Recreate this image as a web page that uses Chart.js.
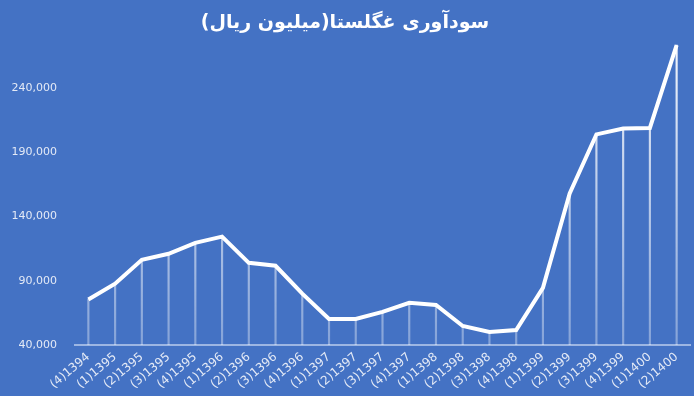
<!DOCTYPE html>
<html>
<head>
<meta charset="utf-8">
<script src="https://cdn.jsdelivr.net/npm/chart.js@4.4.1/dist/chart.umd.min.js"></script>
<style>
  html, body { margin: 0; padding: 0; background: #fff; }
  #wrap { width: 694px; height: 396px; background: #4472c4; }
</style>
</head>
<body>
<div id="wrap"><canvas id="chart" width="694" height="396"></canvas></div>
<script>
// quarters (Persian calendar) and profit in million rials
const quarters = [
  '(4)1394', '(1)1395', '(2)1395', '(3)1395', '(4)1395',
  '(1)1396', '(2)1396', '(3)1396', '(4)1396',
  '(1)1397', '(2)1397', '(3)1397', '(4)1397',
  '(1)1398', '(2)1398', '(3)1398', '(4)1398',
  '(1)1399', '(2)1399', '(3)1399', '(4)1399',
  '(1)1400', '(2)1400'
];
const profit = [
  75500, 87700, 106400, 111000, 119500,
  124400, 104000, 101700, 80000,
  60300, 60300, 65800, 72800,
  71200, 54800, 50200, 51700,
  84500, 158000, 204000, 208500,
  209000, 273500
];
const yTicks = [40000, 90000, 140000, 190000, 240000];
const chartTitle = 'سودآوری غگلستا(میلیون ریال)';

(() => {
  'use strict';

  const tickColor = '#e4eaf6';

  // faded vertical drop lines under the points
  function dropGradient(ctx) {
    const area = ctx.chart.chartArea;
    if (!area) return 'rgba(255,255,255,0.7)';
    const g = ctx.chart.ctx.createLinearGradient(0, area.top, 0, area.bottom);
    g.addColorStop(0, 'rgba(255,255,255,0.95)');
    g.addColorStop(1, 'rgba(255,255,255,0.35)');
    return g;
  }

  new Chart(document.getElementById('chart'), {
    data: {
      labels: quarters,
      datasets: [
        {
          type: 'line',
          data: profit,
          borderColor: '#ffffff',
          borderWidth: 4,
          pointRadius: 0,
          tension: 0,
          order: 0
        },
        {
          type: 'bar',
          data: profit,
          backgroundColor: dropGradient,
          barThickness: 1.5,
          order: 1
        }
      ]
    },
    options: {
      responsive: false,
      animation: false,
      events: [],
      layout: { padding: { left: 0, right: 4, top: 0, bottom: 0 } },
      plugins: {
        legend: { display: false },
        tooltip: { enabled: false },
        title: {
          display: true,
          // RLE ... PDF keeps the parentheses in right-to-left order
          text: '\u202B' + chartTitle + '\u202C',
          color: '#ffffff',
          font: { family: 'DejaVu Sans', size: 19, weight: 'bold' },
          padding: { top: 12, bottom: 2 }
        }
      },
      scales: {
        x: {
          offset: true,
          grid: { display: false, drawTicks: false },
          border: { display: true, color: '#9db6e3', width: 2 },
          ticks: {
            color: tickColor,
            font: { family: 'DejaVu Sans', size: 12 },
            minRotation: 40,
            maxRotation: 40,
            autoSkip: false,
            padding: 5
          },
          afterFit: s => { s.height = 51; }
        },
        y: {
          min: 40000,
          max: 280000,
          grid: { display: false, drawTicks: false },
          border: { display: false },
          ticks: {
            color: tickColor,
            font: { family: 'DejaVu Sans', size: 11 },
            padding: 18,
            callback: v => v.toLocaleString('en-US')
          },
          afterBuildTicks: s => { s.ticks = yTicks.map(v => ({ value: v })); },
          afterFit: s => { s.width = 75; }
        }
      }
    }
  });
})();
</script>
</body>
</html>
